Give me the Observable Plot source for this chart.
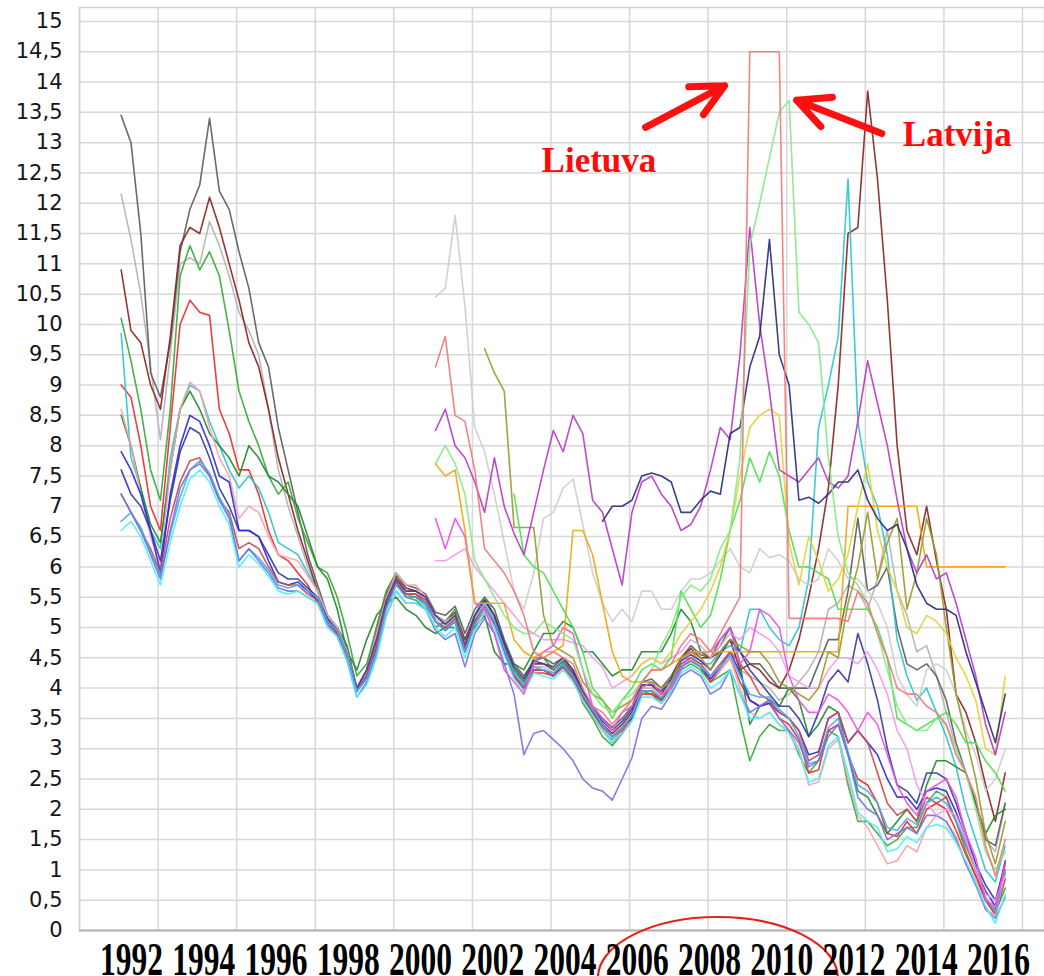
<!DOCTYPE html>
<html><head><meta charset="utf-8">
<script src="https://cdn.jsdelivr.net/npm/d3@7"></script>
<script src="https://cdn.jsdelivr.net/npm/@observablehq/plot@0.6"></script>
<style>
html,body{margin:0;padding:0;background:#fff;overflow:hidden;}
#chart svg{display:block;}
</style></head>
<body><div id="chart"></div>
<script>
// ---- axis values ----
const yTicks = [0,0.5,1,1.5,2,2.5,3,3.5,4,4.5,5,5.5,6,6.5,7,7.5,8,8.5,9,9.5,10,10.5,11,11.5,12,12.5,13,13.5,14,14.5,15];
const gridYears = [1992,1994,1996,1998,2000,2002,2004,2006,2008,2010,2012,2014,2016];
const labelYears = [1992,1994,1996,1998,2000,2002,2004,2006,2008,2010,2012,2014,2016];

// ---- quarterly long-term yields, % ----
const germany = [6.6,6.75,6.5,6.1,5.7,6.4,7.0,7.45,7.6,7.4,7.0,6.7,
 6.0,6.2,6.05,5.85,5.6,5.55,5.6,5.5,5.4,5.0,4.85,4.45,
 3.85,4.05,4.5,5.2,5.6,5.4,5.4,5.3,5.0,4.85,5.0,4.5,
 4.95,5.25,5.0,4.55,4.15,3.95,4.25,4.2,4.15,4.3,4.1,3.8,
 3.55,3.3,3.1,3.25,3.45,3.85,3.85,3.75,3.95,4.25,4.35,4.25,
 4.0,4.1,4.3,3.9,3.5,3.5,3.6,3.4,3.25,2.95,2.45,2.5,
 3.05,3.2,2.6,1.95,1.8,1.7,1.3,1.35,1.55,1.45,1.7,1.75,
 1.7,1.45,1.15,0.8,0.4,0.12,0.6];
const netherlands = [6.75,6.9,6.65,6.25,5.85,6.55,7.15,7.6,7.75,7.55,7.15,6.85,
 6.1,6.3,6.15,5.95,5.7,5.65,5.7,5.6,5.5,5.1,4.95,4.55,
 3.95,4.15,4.6,5.3,5.7,5.5,5.5,5.4,5.1,4.95,5.1,4.6,
 5.05,5.35,5.1,4.65,4.25,4.05,4.35,4.3,4.25,4.4,4.2,3.9,
 3.65,3.4,3.2,3.35,3.55,3.95,3.95,3.85,4.05,4.35,4.45,4.35,
 4.2,4.35,4.55,4.2,3.9,3.85,3.85,3.65,3.5,3.2,2.75,2.8,
 3.35,3.5,2.95,2.4,2.3,2.1,1.7,1.65,1.85,1.75,2.1,2.2,
 2.1,1.8,1.45,1.05,0.55,0.3,0.95];
const france = [7.9,7.6,7.2,6.6,5.9,7.2,8.0,8.5,8.4,8.0,7.5,7.4,
 6.6,6.6,6.5,6.1,5.75,5.7,5.75,5.6,5.45,5.1,4.9,4.5,
 3.95,4.2,4.65,5.35,5.75,5.5,5.5,5.4,5.1,4.95,5.1,4.6,
 5.1,5.35,5.1,4.6,4.2,4.0,4.3,4.3,4.2,4.4,4.2,3.85,
 3.6,3.4,3.2,3.35,3.5,3.95,3.95,3.8,4.05,4.35,4.45,4.35,
 4.15,4.35,4.6,4.25,3.8,3.7,3.75,3.6,3.5,3.3,2.9,2.95,
 3.5,3.6,3.1,3.3,3.1,2.9,2.5,2.2,2.2,2.0,2.3,2.35,
 2.3,1.95,1.5,1.0,0.65,0.4,1.15];
const belgium = [7.6,7.2,7.0,6.6,6.1,7.1,7.9,8.3,8.2,7.8,7.3,7.0,
 6.6,6.6,6.5,6.2,5.9,5.8,5.8,5.65,5.5,5.15,4.95,4.55,
 4.0,4.3,4.8,5.45,5.8,5.6,5.6,5.5,5.2,5.05,5.2,4.7,
 5.2,5.45,5.2,4.75,4.35,4.15,4.45,4.4,4.35,4.5,4.3,3.95,
 3.7,3.45,3.3,3.45,3.65,4.05,4.05,3.95,4.15,4.45,4.55,4.45,
 4.3,4.55,4.8,4.6,4.3,4.1,3.9,3.7,3.7,3.5,3.2,3.6,
 4.1,4.3,4.1,4.9,4.4,3.8,3.0,2.4,2.3,2.1,2.6,2.6,
 2.5,2.1,1.6,1.1,0.75,0.5,1.1];
const denmark = [8.6,8.0,7.2,6.5,6.0,7.6,8.6,9.05,8.9,8.3,7.8,7.5,
 6.8,7.0,6.9,6.5,6.2,6.15,6.1,5.85,5.6,5.2,5.0,4.6,
 4.0,4.3,4.9,5.5,5.9,5.7,5.7,5.5,5.2,5.1,5.2,4.7,
 5.1,5.3,5.0,4.6,4.2,3.95,4.3,4.3,4.2,4.35,4.15,3.8,
 3.55,3.3,3.1,3.3,3.5,3.95,3.95,3.8,4.0,4.35,4.5,4.35,
 4.15,4.3,4.5,4.0,3.6,3.5,3.6,3.4,3.3,3.0,2.4,2.45,
 3.0,3.15,2.5,1.9,1.7,1.4,1.1,1.15,1.4,1.3,1.7,1.9,
 1.8,1.55,1.1,0.85,0.35,0.25,0.95];
const unitedKingdom = [8.5,8.0,7.3,6.7,6.4,7.6,8.6,8.9,8.6,8.2,8.0,7.8,
 7.5,8.0,7.8,7.5,7.4,7.2,7.0,6.5,6.0,5.8,5.3,4.6,
 4.3,4.8,5.2,5.4,5.5,5.3,5.2,5.0,4.9,5.0,5.0,4.8,
 5.0,5.2,4.6,4.4,4.4,4.3,4.6,4.9,4.9,5.1,5.0,4.6,
 4.6,4.4,4.2,4.3,4.3,4.6,4.6,4.6,4.9,5.3,5.1,4.6,
 4.5,4.7,5.0,4.4,3.4,3.7,3.8,3.7,4.0,3.8,3.2,3.4,
 3.7,3.6,2.9,2.3,2.2,1.9,1.6,1.8,2.0,1.8,2.4,2.8,
 2.8,2.7,2.6,2.1,1.6,1.9,2.0];
const austria = [7.2,6.9,6.6,6.3,5.9,6.8,7.4,7.75,7.8,7.5,7.1,6.9,
 6.3,6.4,6.3,6.0,5.75,5.7,5.7,5.55,5.45,5.1,4.9,4.5,
 3.95,4.2,4.7,5.35,5.75,5.55,5.55,5.45,5.1,5.0,5.15,4.65,
 5.1,5.35,5.1,4.65,4.2,4.0,4.3,4.3,4.2,4.35,4.15,3.85,
 3.6,3.35,3.2,3.3,3.55,3.95,3.95,3.8,4.05,4.4,4.5,4.4,
 4.2,4.4,4.6,4.4,4.2,3.9,3.8,3.6,3.5,3.3,2.8,2.9,
 3.5,3.6,3.1,3.3,3.1,2.6,2.1,1.9,2.0,1.8,2.2,2.1,
 2.2,1.8,1.4,1.0,0.5,0.35,1.0];
const finland = [9.0,8.8,8.0,7.0,6.6,8.3,10.0,10.4,10.2,10.15,8.6,8.2,
 7.6,7.6,7.2,6.6,6.2,6.1,5.9,5.7,5.4,5.1,4.9,4.5,
 3.95,4.2,4.75,5.4,5.75,5.55,5.55,5.4,5.1,4.95,5.1,4.6,
 5.05,5.3,5.05,4.6,4.2,3.95,4.25,4.25,4.2,4.35,4.15,3.8,
 3.55,3.3,3.1,3.25,3.5,3.9,3.9,3.8,4.0,4.35,4.45,4.35,
 4.1,4.3,4.5,4.1,3.8,3.7,3.75,3.5,3.4,3.15,2.6,2.65,
 3.3,3.4,2.9,2.5,2.4,2.1,1.6,1.55,1.8,1.6,2.0,2.1,
 2.0,1.65,1.25,0.9,0.5,0.25,0.85];
const sweden = [10.1,9.4,8.6,7.6,7.1,8.6,10.8,11.3,10.9,11.2,10.8,9.9,
 8.9,8.4,8.0,7.5,7.2,7.4,6.8,6.4,6.0,5.9,5.5,4.9,
 4.2,4.4,5.0,5.6,5.9,5.5,5.45,5.3,5.0,5.1,5.3,4.7,
 5.2,5.5,5.2,4.6,4.3,4.1,4.5,4.5,4.3,4.45,4.2,3.75,
 3.5,3.2,3.05,3.25,3.5,3.95,3.9,3.75,3.95,4.3,4.4,4.3,
 4.1,4.2,4.3,3.5,2.8,3.2,3.4,3.3,3.3,2.9,2.6,2.8,
 3.3,3.2,2.4,1.8,1.8,1.6,1.4,1.5,1.7,1.7,2.1,2.3,
 2.2,1.8,1.3,0.9,0.5,0.3,0.7];
const ireland = [9.85,7.8,7.3,6.6,6.3,7.8,8.6,9.0,8.9,8.4,8.0,7.6,
 7.3,7.5,7.3,6.9,6.4,6.3,6.2,5.9,5.6,5.2,5.0,4.6,
 3.95,4.2,4.8,5.4,5.75,5.55,5.5,5.35,5.1,5.0,5.15,4.7,
 5.1,5.35,5.1,4.6,4.2,4.0,4.3,4.3,4.2,4.35,4.15,3.85,
 3.6,3.3,3.15,3.3,3.55,3.95,3.95,3.8,4.05,4.4,4.5,4.4,
 4.4,4.6,4.7,4.6,5.3,5.3,5.0,4.8,4.7,5.0,5.8,8.3,
 9.0,9.8,12.4,8.4,7.4,7.0,6.2,4.8,4.2,3.8,4.0,3.6,
 3.2,2.7,2.0,1.5,1.0,0.8,1.4];
const italy = [13.45,13.0,11.5,9.2,8.8,9.7,11.2,11.9,12.3,13.4,12.2,11.9,
 11.2,10.6,9.7,9.3,8.3,7.6,6.9,6.2,5.7,5.2,5.0,4.7,
 4.0,4.3,5.0,5.6,5.9,5.7,5.65,5.55,5.25,5.2,5.35,4.9,
 5.3,5.5,5.3,4.8,4.4,4.2,4.45,4.5,4.4,4.5,4.3,3.95,
 3.7,3.5,3.35,3.5,3.7,4.1,4.15,4.0,4.2,4.5,4.7,4.55,
 4.5,4.8,5.0,4.6,4.4,4.4,4.2,4.0,4.0,4.0,4.0,4.4,
 4.8,4.8,5.6,6.8,5.6,5.7,6.0,5.0,4.4,4.3,4.4,4.2,
 3.8,3.1,2.6,2.1,1.5,1.4,2.1];
const spain = [12.15,11.4,10.5,9.3,8.1,9.5,11.0,11.1,11.0,11.7,11.3,10.8,
 10.2,9.9,9.5,8.6,7.6,7.0,6.5,6.0,5.6,5.15,4.95,4.55,
 4.0,4.25,4.9,5.5,5.8,5.6,5.6,5.45,5.15,5.05,5.2,4.75,
 5.15,5.4,5.15,4.65,4.25,4.05,4.35,4.35,4.25,4.4,4.2,3.85,
 3.6,3.35,3.2,3.35,3.55,4.0,4.0,3.85,4.1,4.45,4.6,4.45,
 4.3,4.6,4.8,4.3,4.2,4.1,4.0,3.8,3.9,4.1,4.3,4.6,
 5.3,5.4,5.7,5.6,5.3,5.8,6.6,5.6,5.2,4.6,4.7,4.2,
 3.6,3.0,2.6,2.1,1.5,1.3,2.1];
const portugal = [10.9,9.9,9.7,9.0,8.6,9.8,11.3,11.6,11.5,12.1,11.6,11.0,
 10.4,9.7,9.3,8.6,7.8,7.2,6.6,6.1,5.6,5.2,5.0,4.6,
 4.0,4.3,4.95,5.55,5.85,5.65,5.6,5.5,5.2,5.1,5.25,4.8,
 5.2,5.45,5.2,4.7,4.3,4.1,4.4,4.4,4.3,4.45,4.25,3.9,
 3.65,3.4,3.25,3.4,3.6,4.05,4.05,3.9,4.15,4.5,4.65,4.5,
 4.5,4.6,4.8,4.3,4.4,4.3,4.1,4.0,4.3,4.8,5.5,6.3,
 7.3,9.0,11.5,11.6,13.85,12.4,10.4,8.0,6.6,6.2,7.0,6.1,
 5.3,3.9,3.6,3.1,2.4,1.8,2.6];
const luxembourg = [7.2,6.9,6.6,6.2,5.8,6.6,7.3,7.6,7.7,7.5,7.1,6.8,
 6.1,6.3,6.1,5.9,5.65,5.6,5.6,5.5,5.4,5.05,4.85,4.45,
 3.85,4.1,4.55,5.2,5.6,5.4,5.4,5.3,4.95,4.8,4.9,4.35,
 4.9,5.15,4.9,4.4,3.9,2.9,3.25,3.3,3.15,3.0,2.8,2.5,
 2.35,2.3,2.15,2.5,2.85,3.5,3.7,3.65,3.9,4.2,4.3,4.2,
 3.9,4.0,4.3,3.9,3.6,3.7,3.8,3.5,3.3,3.1,2.7,2.8,
 3.2,3.4,2.9,2.2,2.0,1.9,1.5,1.6,1.7,1.6,1.9,1.9,
 1.8,1.5,1.1,0.75,0.35,0.2,0.55];
// from 2001 Q1
const poland = [10.45,10.6,11.8,10.3, 8.3,7.9,7.2,6.4, 5.6,5.3,5.9,6.8, 6.9,7.3,7.45,6.7,
 5.9,5.4,5.1,5.3, 5.1,5.6,5.6,5.3, 5.3,5.6,5.8,5.8, 5.9,6.1,6.3,6.0, 5.9,6.3,6.15,6.2,
 6.1,5.8,5.7,5.8, 6.3,6.1,5.8,5.8, 5.6,5.4,5.0,4.2, 3.9,3.7,4.3,4.4, 4.3,3.9,3.3,2.9, 2.3,2.5,3.0];
const lithuania = [9.3,9.8,8.5,8.4, 7.6,6.3,6.1,5.9, 5.6,5.2,4.6,4.5, 4.6,4.5,4.4,4.0,
 3.7,3.6,3.4,3.6, 3.8,4.1,4.3,4.3, 4.4,4.7,4.9,4.8, 4.6,4.9,5.2,5.5, 14.5,14.5,14.5,14.5,
 5.15,5.15,5.15,5.15, 5.15,5.15,5.1,5.6, 5.4,4.9,4.5,4.0, 3.9,3.9,3.7,3.6, 3.4,2.9,2.6,2.2, 1.4,0.9,1.5];
const latvia = [7.7,8.0,7.7,7.2, 6.1,5.8,5.5,5.2, 5.0,4.9,4.9,5.1, 5.0,4.9,4.8,4.3,
 3.9,3.7,3.6,3.8, 3.9,4.1,4.3,4.7, 5.0,5.5,5.7,5.6, 5.8,6.3,6.6,7.8, 11.3,12.0,12.75,13.5,
 13.7,10.2,10.0,9.7, 7.8,6.5,5.9,5.7, 5.4,4.9,4.3,3.7, 3.4,3.3,3.3,3.5, 3.4,3.0,2.6,2.0, 1.3,1.0,1.3];
const hungary = [8.25,8.6,8.0,7.8, 7.4,6.9,7.8,7.0, 6.55,6.2,6.9,7.6, 8.25,7.9,8.5,8.2,
 7.1,6.9,6.3,5.7, 6.9,7.4,7.5,7.2, 7.0,6.6,6.7,7.0, 7.6,8.3,8.1,9.5, 11.6,10.0,8.9,7.6,
 7.5,7.4,7.6,7.8, 7.4,7.3,7.5,8.4, 9.4,8.7,8.0,7.1, 6.3,5.9,6.2,5.8, 5.9,5.4,4.8,4.2, 3.4,2.9,3.6];
const czechia = [6.8,6.3,6.8,6.5, 5.4,5.3,4.9,4.3, 4.1,3.9,4.4,4.6, 4.7,5.0,4.9,4.3,
 3.7,3.5,3.3,3.6, 3.7,4.0,4.1,3.9, 4.0,4.3,4.6,4.6, 4.6,4.8,5.0,4.4, 4.6,5.3,5.2,5.0,
 4.2,3.8,3.6,3.6, 3.9,3.8,3.6,3.3, 3.6,3.4,2.9,2.4, 2.1,1.9,2.3,2.4, 2.5,2.2,1.6,1.2, 0.5,0.4,1.1];
const slovakia = [6.1,6.1,6.2,6.3, 6.0,5.8,5.6,5.4, 5.2,5.0,4.9,4.8, 4.8,4.8,4.75,4.7,
 4.5,4.35,4.0,4.1, 4.2,4.4,4.5,4.4, 4.5,4.6,4.8,4.7, 4.5,4.7,4.9,4.8, 5.0,4.9,4.8,4.6,
 4.2,4.1,4.0,4.0, 4.3,4.5,4.5,4.4, 4.6,4.3,3.9,3.3, 3.0,2.4,2.1,1.9, 2.0,1.9,1.5,1.0, 0.6,0.5,0.9];
const cyprus = [7.7,7.5,7.6,6.6, 5.4,5.4,5.4,5.4, 4.8,4.6,4.5,4.6, 4.6,4.7,6.6,6.6,
 6.2,5.4,4.6,4.2, 4.1,4.1,4.3,4.3, 4.4,4.5,4.6,4.6, 4.6,4.6,4.6,4.6, 4.6,4.6,4.6,4.6,
 4.6,4.6,4.6,4.6, 4.6,4.6,7.0,7.0, 7.0,7.0,7.0,7.0, 7.0,7.0,6.0,6.0, 6.0,6.0,6.0,6.0, 6.0,6.0,6.0];
// from 2002 Q2
const slovenia = [9.6,9.2,8.9, 6.65,6.65,6.65,5.2, 4.7,4.6,4.5,4.1, 3.9,3.8,3.6,3.7,
 3.8,4.1,4.1,4.0, 4.1,4.5,4.6,4.5, 4.3,4.6,4.8,4.7, 4.6,4.6,4.4,4.1, 4.0,3.9,3.8,4.0,
 4.6,4.5,5.4,6.0, 6.9,5.8,6.4,6.8, 5.3,5.9,6.8,6.2, 5.0,3.9,3.2,2.5, 1.6,1.1,1.8];
// from 2003 Q1
const bulgaria = [7.2,6.2,6.0,5.9, 5.6,5.3,5.0,4.6, 4.0,3.8,3.5,3.8, 4.0,4.3,4.4,4.3,
 4.5,5.6,5.3,5.0, 5.2,5.8,6.6,7.1, 7.8,7.4,7.9,7.5, 6.6,6.0,6.0,5.9, 5.8,5.3,5.3,5.3,
 5.3,5.0,4.5,3.5, 3.4,3.3,3.4,3.5, 3.6,3.4,3.1,3.1, 2.8,2.6,2.3];
// from 2005 Q2
const romania = [6.75,7.0,7.0, 7.1,7.5,7.55,7.5, 7.4,6.9,6.9,7.1, 7.25,7.2,8.2,8.3,
 9.3,9.8,11.4,9.5, 9.0,7.1,7.15,7.05, 7.2,7.4,7.4,7.6, 7.1,6.8,6.6,6.7, 6.3,5.7,5.4,5.3,
 5.3,5.2,4.6,4.1, 3.6,3.1,3.9];
// from 2006 Q1
const yellowSeries = [4.2,4.4,4.5,4.4, 4.6,4.9,5.1,5.3, 5.6,6.0,6.6,7.5, 8.3,8.5,8.6,8.5,
 6.4,5.7,6.5,6.1, 5.6,5.8,6.2,7.0, 7.7,6.6,6.0,5.6, 5.0,4.9,5.2,5.1, 4.9,4.5,4.2,3.8, 3.0,2.9,4.2];

// series table (draw order) and first quarter of each
const seriesList = [
  {name: "ES", start: 1993, values: spain},
  {name: "IT", start: 1993, values: italy},
  {name: "PT", start: 1993, values: portugal},
  {name: "SE", start: 1993, values: sweden},
  {name: "FI", start: 1993, values: finland},
  {name: "IE", start: 1993, values: ireland},
  {name: "UK", start: 1993, values: unitedKingdom},
  {name: "DK", start: 1993, values: denmark},
  {name: "BE", start: 1993, values: belgium},
  {name: "FR", start: 1993, values: france},
  {name: "AT", start: 1993, values: austria},
  {name: "NL", start: 1993, values: netherlands},
  {name: "LU", start: 1993, values: luxembourg},
  {name: "DE", start: 1993, values: germany},
  {name: "PL", start: 2001, values: poland},
  {name: "SK", start: 2001, values: slovakia},
  {name: "CZ", start: 2001, values: czechia},
  {name: "CY", start: 2001, values: cyprus},
  {name: "SI", start: 2002.25, values: slovenia},
  {name: "BG", start: 2003, values: bulgaria},
  {name: "MT", start: 2006, values: yellowSeries},
  {name: "HU", start: 2001, values: hungary},
  {name: "RO", start: 2005.25, values: romania},
  {name: "LV", start: 2001, values: latvia},
  {name: "LT", start: 2001, values: lithuania}
];
const seriesColors = {
  ES: "#b3b3b3", IT: "#5e5e5e", PT: "#8b2525", SE: "#39a839", FI: "#ec2c2c",
  IE: "#2ec6cf", UK: "#238a2c", DK: "#f4a4ae", BE: "#3a3a9e", FR: "#2b2be6",
  AT: "#d04a4a", NL: "#46acf2", LU: "#7474e4", DE: "#4cf0f4", PL: "#cdcdcd",
  SK: "#f39af0", CZ: "#ee52e6", CY: "#f2a60f", SI: "#9c9a2c", BG: "#4ee04e",
  MT: "#e2d236", HU: "#b83cc8", RO: "#2c2c80", LV: "#86ea86", LT: "#f07a7a"
};
// each quarterly value is plotted a little after the quarter start (monthly averages)
const quarterOffset = 0.06;

// annotations (data space)
const notes = [
  {label: "Lietuva", year: 2005.22, value: 12.51},
  {label: "Latvija", year: 2014.34, value: 12.94}
];
const pointers = [
  {x1: 2005.73, y1: 13.02, x2: 2008.42, y2: 13.94},
  {x1: 2013.13, y1: 12.97, x2: 2010.25, y2: 13.70}
];
const circledLabelCenter = 2008.26;

const rows = seriesList.flatMap(s => s.values.map((v, i) => ({name: s.name, year: s.start + i / 4 + quarterOffset, value: v})));
const fmt = d => String(d).replace(".", ",");

const main = Plot.plot({
  width: 1044, height: 942,
  marginLeft: 79, marginRight: 0, marginTop: 7, marginBottom: 12,
  x: {domain: [1992, 2016.56], axis: null},
  y: {domain: [0, 15.23], axis: null},
  color: {type: "identity"},
  style: {background: "white", overflow: "visible"},
  marks: [
    Plot.ruleY(yTicks, {stroke: "#d8d8d8", strokeWidth: 1.5}),
    Plot.ruleX(gridYears, {stroke: "#d8d8d8", strokeWidth: 1.5}),
    Plot.frame({stroke: "#d2d2d2", strokeWidth: 1.5}),
    Plot.ruleY([0], {stroke: "#b4b4b4", strokeWidth: 2}),
    Plot.axisY(yTicks, {anchor: "left", tickSize: 0, tickPadding: 17, fontSize: 21,
      fontFamily: "DejaVu Sans", tickFormat: fmt, fill: "#151515"}),
    Plot.line(rows, {x: "year", y: "value", z: "name", stroke: d => seriesColors[d.name],
      strokeWidth: 1.6, strokeOpacity: 0.92, strokeLinejoin: "round"}),
    Plot.arrow(pointers, {x1: "x1", y1: "y1", x2: "x2", y2: "y2", stroke: "#ff1010",
      strokeWidth: 7, headLength: 7.7, headAngle: 52, insetStart: 30,
      strokeLinecap: "round", strokeLinejoin: "round"}),
    Plot.text(notes, {x: "year", y: "value", text: "label", fill: "#ff0a0a", fontSize: 35,
      fontWeight: "bold", fontFamily: "Liberation Serif", lineAnchor: "bottom", textAnchor: "middle"})
  ]
});
// red ellipse around the 2006–2010 labels (spills below the plot frame)
const mx = main.scale("x"), my = main.scale("y");
d3.select(main).append("ellipse")
  .attr("cx", mx.apply(circledLabelCenter)).attr("cy", my.apply(0) + 48)
  .attr("rx", 120).attr("ry", 61)
  .attr("fill", "none").attr("stroke", "#e3231b").attr("stroke-width", 2.2);

// year labels row: narrow bold serif figures (drawn at natural width, stretched vertically)
const strip = Plot.plot({
  width: 1044, height: 34,
  marginLeft: 131, marginRight: 46, marginTop: 0, marginBottom: 0,
  x: {domain: [1992, 2016], axis: null},
  style: {overflow: "visible", background: "transparent"},
  marks: [
    Plot.text(labelYears, {x: d => d, text: d => String(d), fontSize: 31.5, fontWeight: "bold",
      fontFamily: "Liberation Serif", fill: "#000", frameAnchor: "bottom", lineAnchor: "bottom", dy: -1})
  ]
});
strip.style.transform = "scaleY(1.5)";
strip.style.transformOrigin = "50% 100%";

document.getElementById("chart").append(main, strip);
</script></body></html>
